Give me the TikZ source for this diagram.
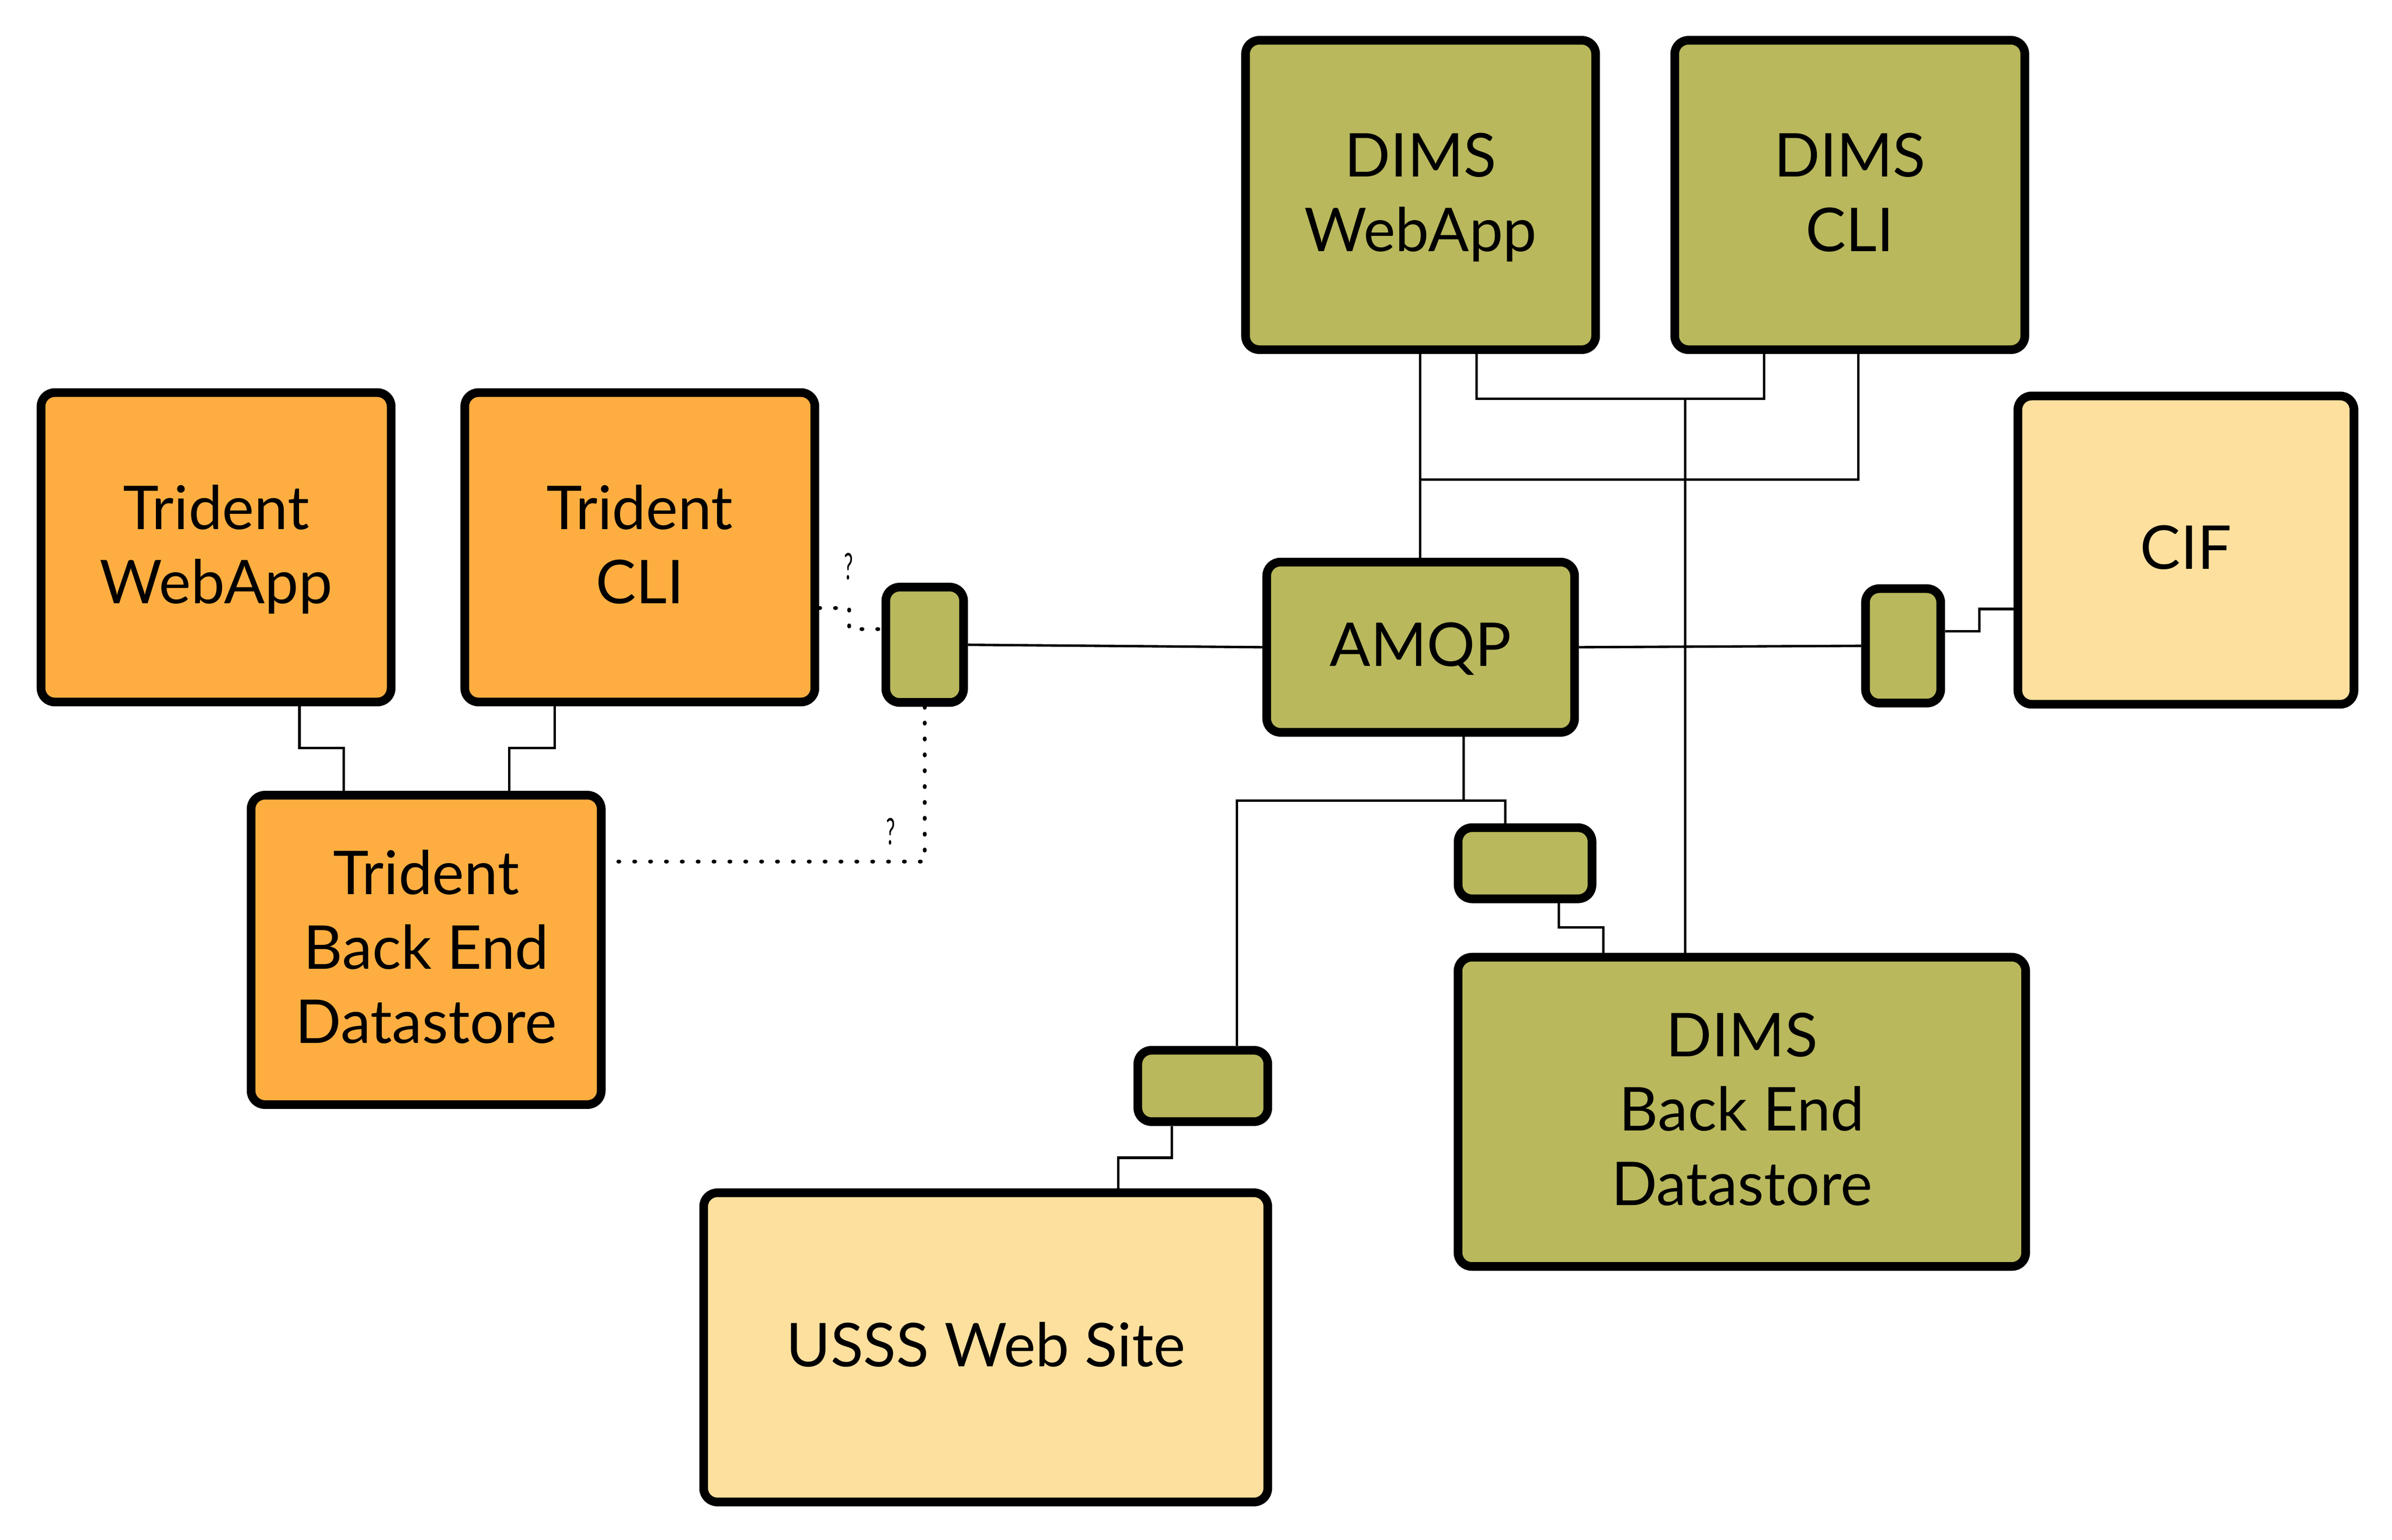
\documentclass[tikz,border=0pt]{standalone}
\usepackage{fontspec}
\setmainfont{Lato}
\usepackage{graphicx}
\definecolor{orng}{RGB}{254,174,64}
\definecolor{olive}{RGB}{185,184,92}
\definecolor{cream}{RGB}{253,224,158}
\begin{document}
\begin{tikzpicture}[x=1pt,y=-1pt,
  box/.style={draw=black, line width=5.7pt, rounded corners=9pt, inner sep=0pt, align=center,
    font=\fontsize{39.6}{48.8}\selectfont, text depth=3.4pt},
  big/.style={box, minimum width=229.5pt, minimum height=202.8pt},
  one/.style={text height=28.4pt},
  two/.style={text height=77.2pt},
  three/.style={text height=126pt},
  conn/.style={line width=1.6pt},
  dotln/.style={line width=2.6pt, dash pattern=on 0.6pt off 9.8pt, line cap=round},
  qmark/.style={font=\fontsize{24}{24}\selectfont, anchor=base, inner sep=0pt}
]
\fill[white] (0,0) rectangle (1568,1009.3);
\useasboundingbox (0,0) rectangle (1568,1009.3);

% boxes
\node[big, fill=orng, two] (tw) at (141.65,358.75) {Trident\\WebApp};
\node[big, fill=orng, two] (tc) at (419.4,358.75) {Trident\\CLI};
\node[big, fill=orng, three] (tb) at (279.35,622.65) {Trident\\Back End\\Datastore};
\node[big, fill=olive, two] (dw) at (931.2,127.8) {DIMS\\WebApp};
\node[big, fill=olive, two] (dc) at (1212.55,127.8) {DIMS\\CLI};
\node[box, fill=cream, one, minimum width=220.3pt, minimum height=202.1pt] (cif) at (1432.9,360.6) {CIF};
\node[box, fill=olive, one, minimum width=201.8pt, minimum height=111.6pt] (amqp) at (931.25,424.25) {AMQP};
\node[box, fill=olive, minimum width=51pt, minimum height=75.6pt] (s1) at (606.15,422.65) {};
\node[box, fill=olive, minimum width=49.3pt, minimum height=75pt] (s2) at (1247.5,423.35) {};
\node[box, fill=olive, minimum width=87.7pt, minimum height=46.6pt] (s3) at (999.7,565.85) {};
\node[box, fill=olive, minimum width=85.2pt, minimum height=46.8pt] (s4) at (788.45,711.85) {};
\node[box, fill=olive, three, minimum width=372.1pt, minimum height=202.7pt] (dbe) at (1141.8,728.8) {DIMS\\Back End\\Datastore};
\node[box, fill=cream, one, minimum width=369.8pt, minimum height=202.7pt] (usss) at (646.15,883.2) {USSS Web Site};

% junction coordinates
\coordinate (j1) at (930.9,314.4);
\coordinate (j2) at (1104.6,261.5);
\coordinate (j3) at (959.4,524.8);

% connectors
\draw[conn] (tw.south -| 196.3,0) |- (225.2,490.2) -- (tb.north -| 225.2,0);
\draw[conn] (tc.south -| 363.5,0) |- (333.9,490.2) -- (tb.north -| 333.9,0);
\draw[conn] (s1.east) -- (amqp.west);
\draw[conn] (amqp.east) -- (s2.west);
\draw[conn] (s2.east |- 0,413.8) -| (1297.6,399.2) -- (cif.west |- 0,399.2);
\draw[conn] (dw.south -| 930.9,0) -- (amqp.north -| 930.9,0);
\draw[conn] (dw.south -| 968,0) |- (1156.5,261.5) -- (dc.south -| 1156.5,0);
\draw[conn] (dc.south -| 1218.1,0) |- (j1);
\draw[conn] (j2) -- (dbe.north -| j2);
\draw[conn] (amqp.south -| 959.4,0) |- (986.8,524.8) -- (s3.north -| 986.8,0);
\draw[conn] (j3) -| (s4.north -| 810.9,0);
\draw[conn] (s3.south -| 1021.8,0) |- (1051,608) -- (dbe.north -| 1051,0);
\draw[conn] (s4.south -| 768.1,0) |- (733.1,758.9) -- (usss.north -| 733.1,0);

% dotted links
\draw[dotln] (tc.east |- 0,398.5) -| (556.7,412.4) -- (s1.west |- 0,412.4);
\draw[dotln] (s1.south) |- (tb.east |- 0,564.7);
\node[qmark] (q1) at (556.2,380) {\scalebox{0.55}[1]{?}};
\node[qmark] (q2) at (583.9,553.7) {\scalebox{0.55}[1]{?}};
\end{tikzpicture}
\end{document}
